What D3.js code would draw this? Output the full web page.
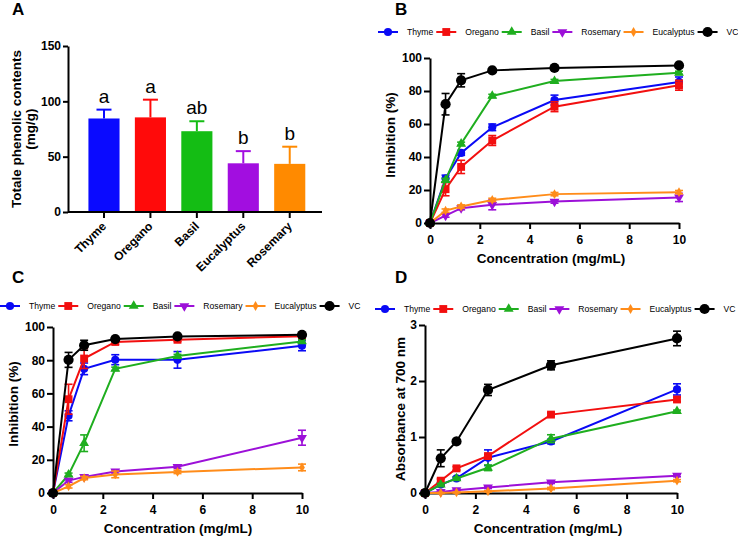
<!DOCTYPE html>
<html><head><meta charset="utf-8">
<script src="https://cdn.jsdelivr.net/npm/d3@7"></script>
<style>
html,body{margin:0;padding:0;background:#fff;}
svg{display:block;font-family:Arial,"Liberation Sans",Helvetica,sans-serif;}
</style></head>
<body>
<svg id="chart" width="738" height="538"></svg>
<script>
// ---------- DATA ----------
// Panel A
const plantNames = ["Thyme", "Oregano", "Basil", "Eucalyptus", "Rosemary"];
const phenolValues = [84.5, 85.5, 73, 44, 43.5];
const phenolErrors = [8, 16, 9, 11, 15.5];
const phenolLetters = ["a", "a", "ab", "b", "b"];
const phenolTicks = [0, 50, 100, 150];

// Line panels
const concentrations = [0, 0.625, 1.25, 2.5, 5, 10];
const concTicks = [0, 2, 4, 6, 8, 10];
const seriesNames = ["Thyme", "Oregano", "Basil", "Rosemary", "Eucalyptus", "VC"];

// Panel B (Inhibition %)
const bThyme = [0, 27, 42.5, 58, 74.5, 85.5];
const bOregano = [0, 20.5, 34, 50, 70.5, 83.5];
const bBasil = [0, 26, 48, 77, 86, 91];
const bRosemary = [0, 4.5, 9, 11, 13, 15.5];
const bEucalyptus = [0, 7.5, 10, 14, 17.5, 18.7];
const bVC = [0, 72, 86.5, 92.5, 94, 95.5];
const bThymeErr = [0, 2, 1.5, 2, 3, 3];
const bOreganoErr = [0, 4, 4, 3, 3, 3];
const bBasilErr = [0, 1, 1, 1, 1, 1];
const bRosemaryErr = [0, 1, 1, 3, 1, 2.5];
const bEucalyptusErr = [0, 1, 1, 1, 1, 1];
const bVCErr = [0, 6.5, 4, 1, 1, 1];

// Panel C (Inhibition %)
const cThyme = [0, 46.5, 74.8, 80.3, 80.2, 88.7];
const cOregano = [0, 56.5, 81, 91, 92.3, 94.5];
const cBasil = [0, 11, 30, 74.8, 82.5, 91.3];
const cRosemary = [0, 7.5, 9.7, 13, 15.8, 33.3];
const cEucalyptus = [0, 4, 9, 11.2, 12.7, 15.4];
const cVC = [0, 80.2, 89, 92.7, 94.3, 95.3];
const cThymeErr = [0, 3, 3.5, 3, 5, 3];
const cOreganoErr = [0, 9, 6, 1.5, 1, 1];
const cBasilErr = [0, 1, 5, 1, 1, 1];
const cRosemaryErr = [0, 1, 1, 1, 1, 4.5];
const cEucalyptusErr = [0, 1, 1, 2, 1, 2];
const cVCErr = [0, 4.5, 3, 1, 1, 1];
const inhibitionTicks = [0, 20, 40, 60, 80, 100];

// Panel D (Absorbance at 700 nm)
const dThyme = [0, 0.15, 0.26, 0.63, 0.92, 1.85];
const dOregano = [0, 0.22, 0.44, 0.66, 1.40, 1.67];
const dBasil = [0, 0.15, 0.26, 0.45, 0.97, 1.46];
const dRosemary = [0, 0.02, 0.05, 0.10, 0.19, 0.31];
const dEucalyptus = [0, 0.0, 0.01, 0.03, 0.08, 0.22];
const dVC = [0, 0.62, 0.92, 1.84, 2.28, 2.76];
const dThymeErr = [0, 0.03, 0.03, 0.14, 0.04, 0.10];
const dOreganoErr = [0, 0.03, 0.03, 0.03, 0.03, 0.04];
const dBasilErr = [0, 0.02, 0.02, 0.05, 0.07, 0.02];
const dRosemaryErr = [0, 0.01, 0.01, 0.02, 0.02, 0.02];
const dEucalyptusErr = [0, 0.01, 0.01, 0.01, 0.02, 0.02];
const dVCErr = [0, 0.15, 0.03, 0.10, 0.08, 0.13];
const absorbanceTicks = [0, 1, 2, 3];

// ---------- STYLE ----------
const barColors = {Thyme:"#0a0aff", Oregano:"#ff0a0a", Basil:"#14bd14", Eucalyptus:"#a20ee0", Rosemary:"#ff8a00"};
const lineColors = {Thyme:"#0a0af5", Oregano:"#f20f0f", Basil:"#1fae1f", Rosemary:"#9c10d8", Eucalyptus:"#ff8c1a", VC:"#000000"};
const FONT = 'Arial,"Liberation Sans",Helvetica,sans-serif';

const svg = d3.select("#chart");

function symbolPath(name) {
  const m = {
    Thyme: d3.symbol(d3.symbolCircle, 52),
    Oregano: d3.symbol(d3.symbolSquare, 62),
    Basil: d3.symbol(d3.symbolTriangle, 42),
    Rosemary: d3.symbol(d3.symbolTriangle, 42),
    Eucalyptus: d3.symbol(d3.symbolDiamond, 28),
    VC: d3.symbol(d3.symbolCircle, 82)
  };
  return m[name]();
}
function symbolRot(name) { return name === "Rosemary" ? " rotate(180)" : ""; }

function styleAxis(g, fs) {
  g.selectAll("path.domain").attr("stroke", "#000").attr("stroke-width", 2);
  g.selectAll(".tick line").attr("stroke", "#000").attr("stroke-width", 2);
  g.selectAll(".tick text").attr("font-family", FONT).attr("font-weight", "bold")
    .attr("font-size", fs || 12).attr("fill", "#000");
}

function panelLabel(txt, x, y) {
  svg.append("text").attr("x", x).attr("y", y).text(txt)
    .attr("font-family", FONT).attr("font-weight", "bold").attr("font-size", 17);
}

// ---------- PANEL A ----------
(function() {
  const x0 = 68, x1 = 322, yb = 212, yt = 46;
  const x = d3.scaleBand().domain(plantNames).range([x0, x1])
    .paddingInner(0.33).paddingOuter(0.4).align(0.55);
  const y = d3.scaleLinear().domain([0, 150]).range([yb, yt]);
  const g = svg.append("g");

  g.selectAll("rect.bar").data(plantNames).enter().append("rect")
    .attr("x", d => x(d)).attr("width", x.bandwidth())
    .attr("y", (d, i) => y(phenolValues[i]))
    .attr("height", (d, i) => y(0) - y(phenolValues[i]))
    .attr("fill", d => barColors[d]);

  plantNames.forEach((d, i) => {
    const cx = x(d) + x.bandwidth() / 2;
    const top = y(phenolValues[i] + phenolErrors[i]);
    g.append("line").attr("x1", cx).attr("x2", cx)
      .attr("y1", y(phenolValues[i])).attr("y2", top)
      .attr("stroke", barColors[d]).attr("stroke-width", 2);
    g.append("line").attr("x1", cx - 7.5).attr("x2", cx + 7.5)
      .attr("y1", top).attr("y2", top)
      .attr("stroke", barColors[d]).attr("stroke-width", 2);
    g.append("text").attr("x", cx).attr("y", top - 7).attr("text-anchor", "middle")
      .attr("font-family", FONT).attr("font-size", 19).text(phenolLetters[i]);
  });

  const ya = g.append("g").attr("transform", `translate(${x0},0)`)
    .call(d3.axisLeft(y).tickValues(phenolTicks).tickSize(5).tickPadding(2).tickSizeOuter(0));
  styleAxis(ya);
  const xa = g.append("g").attr("transform", `translate(0,${yb})`)
    .call(d3.axisBottom(x).tickSize(6).tickSizeOuter(0));
  styleAxis(xa);
  xa.selectAll("path.domain").attr("d", `M${x0},0H${x1}`);
  xa.selectAll(".tick text").attr("y", 0).attr("dy", 0)
    .attr("text-anchor", "end").attr("transform", "translate(3,15) rotate(-45)");

  g.append("text").attr("transform", `translate(21,129) rotate(-90)`)
    .attr("text-anchor", "middle").attr("font-family", FONT)
    .attr("font-weight", "bold").attr("font-size", 13.5).text("Totale phenolic contents");
  g.append("text").attr("transform", `translate(35,129) rotate(-90)`)
    .attr("text-anchor", "middle").attr("font-family", FONT)
    .attr("font-weight", "bold").attr("font-size", 13.5).text("(mg/g)");

  panelLabel("A", 12, 15);
})();

// ---------- LINE PANELS ----------
function linePanel(cfg) {
  const g = svg.append("g");
  const x = d3.scaleLinear().domain([0, 10]).range([cfg.x0, cfg.x1]);
  const y = d3.scaleLinear().domain(cfg.yDomain).range([cfg.yb, cfg.yt]);

  // legend
  let lx = cfg.legendX;
  seriesNames.forEach(name => {
    const c = lineColors[name];
    g.append("line").attr("x1", lx).attr("x2", lx + 20)
      .attr("y1", cfg.legendY).attr("y2", cfg.legendY)
      .attr("stroke", c).attr("stroke-width", 2);
    g.append("path").attr("d", symbolPath(name)).attr("fill", c)
      .attr("transform", `translate(${lx + 10},${cfg.legendY})` + symbolRot(name));
    const tx = g.append("text").attr("x", lx + 29).attr("y", cfg.legendY + 3.2)
      .attr("font-family", FONT).attr("font-size", 8.6).text(name);
    lx = lx + 29 + tx.node().getComputedTextLength() + 3;
  });

  // axes
  const xa = g.append("g").attr("transform", `translate(0,${cfg.yb})`)
    .call(d3.axisBottom(x).tickValues(concTicks).tickSize(6).tickPadding(6).tickSizeOuter(0));
  styleAxis(xa);
  const ya = g.append("g").attr("transform", `translate(${cfg.x0},0)`)
    .call(d3.axisLeft(y).tickValues(cfg.yTicks).tickFormat(d3.format("d"))
      .tickSize(6).tickPadding(2).tickSizeOuter(0));
  styleAxis(ya);

  // series
  seriesNames.forEach((name, si) => {
    const vals = cfg.values[si], errs = cfg.errors[si], c = lineColors[name];
    const pts = concentrations.map((cx, i) => [x(cx), y(vals[i])]);
    g.append("path").attr("d", d3.line()(pts)).attr("fill", "none")
      .attr("stroke", c).attr("stroke-width", 2);
    concentrations.forEach((cx, i) => {
      if (errs[i] > 0) {
        const px = x(cx), ylo = y(vals[i] - errs[i]), yhi = y(vals[i] + errs[i]);
        g.append("line").attr("x1", px).attr("x2", px).attr("y1", ylo).attr("y2", yhi)
          .attr("stroke", c).attr("stroke-width", 1.6);
        [ylo, yhi].forEach(yy => g.append("line").attr("x1", px - 4).attr("x2", px + 4)
          .attr("y1", yy).attr("y2", yy).attr("stroke", c).attr("stroke-width", 1.6));
      }
      g.append("path").attr("d", symbolPath(name)).attr("fill", c)
        .attr("transform", `translate(${x(cx)},${y(vals[i])})` + symbolRot(name));
    });
  });

  // titles
  g.append("text").attr("x", cfg.xTitleX).attr("y", cfg.xTitleY).attr("text-anchor", "middle")
    .attr("font-family", FONT).attr("font-weight", "bold").attr("font-size", 13.5)
    .text("Concentration (mg/mL)");
  g.append("text").attr("transform", `translate(${cfg.yTitleX},${cfg.yTitleY}) rotate(-90)`)
    .attr("text-anchor", "middle").attr("font-family", FONT)
    .attr("font-weight", "bold").attr("font-size", 13.5).text(cfg.yTitle);

  panelLabel(cfg.label, cfg.labelX, cfg.labelY);
}

linePanel({
  label: "B", labelX: 395, labelY: 15,
  x0: 430, x1: 679, yb: 223, yt: 58, yDomain: [0, 100], yTicks: inhibitionTicks,
  values: [bThyme, bOregano, bBasil, bRosemary, bEucalyptus, bVC],
  errors: [bThymeErr, bOreganoErr, bBasilErr, bRosemaryErr, bEucalyptusErr, bVCErr],
  legendX: 378, legendY: 32,
  xTitleX: 551, xTitleY: 263, yTitleX: 395, yTitleY: 135, yTitle: "Inhibition (%)"
});

linePanel({
  label: "C", labelX: 12, labelY: 283,
  x0: 53, x1: 302, yb: 493, yt: 327, yDomain: [0, 100], yTicks: inhibitionTicks,
  values: [cThyme, cOregano, cBasil, cRosemary, cEucalyptus, cVC],
  errors: [cThymeErr, cOreganoErr, cBasilErr, cRosemaryErr, cEucalyptusErr, cVCErr],
  legendX: 0, legendY: 306,
  xTitleX: 178, xTitleY: 533, yTitleX: 18, yTitleY: 404, yTitle: "Inhibition (%)"
});

linePanel({
  label: "D", labelX: 395, labelY: 283,
  x0: 425, x1: 677, yb: 493, yt: 325, yDomain: [0, 3], yTicks: absorbanceTicks,
  values: [dThyme, dOregano, dBasil, dRosemary, dEucalyptus, dVC],
  errors: [dThymeErr, dOreganoErr, dBasilErr, dRosemaryErr, dEucalyptusErr, dVCErr],
  legendX: 375, legendY: 309,
  xTitleX: 548, xTitleY: 533, yTitleX: 405, yTitleY: 409, yTitle: "Absorbance at 700 nm"
});
</script>
</body></html>
